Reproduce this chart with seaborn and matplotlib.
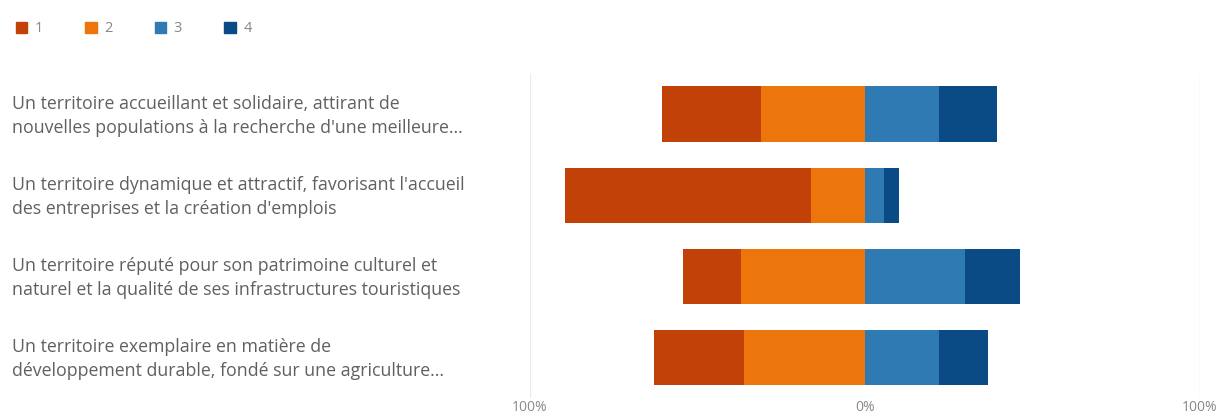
import matplotlib.pyplot as plt
import matplotlib.patches as mpatches
import matplotlib.transforms as mtransforms
import seaborn as sns
import pandas as pd

# Données (en %)
labels = [
    "Un territoire accueillant et solidaire, attirant de\nnouvelles populations à la recherche d'une meilleure...",
    "Un territoire dynamique et attractif, favorisant l'accueil\ndes entreprises et la création d'emplois",
    "Un territoire réputé pour son patrimoine culturel et\nnaturel et la qualité de ses infrastructures touristiques",
    "Un territoire exemplaire en matière de\ndéveloppement durable, fondé sur une agriculture...",
]
note_1 = [29.6, 73.4, 17.3, 26.9]
note_2 = [31.0, 16.1, 37.0, 36.1]
note_3 = [22.0, 5.7, 29.9, 22.1]
note_4 = [17.3, 4.5, 16.4, 14.6]
legend_labels = ["1", "2", "3", "4"]
tick_labels = ["100%", "0%", "100%"]

colors = ["#C24109", "#EC760C", "#2F7AB3", "#0A4B85"]

sns.set_theme(style="white")
plt.rcParams['font.family'] = ['Open Sans', 'DejaVu Sans']

df = pd.DataFrame({'q': labels, 'n1': note_1, 'n2': note_2, 'n3': note_3, 'n4': note_4})
# cumuls pour le graphique divergent
df['neg_out'] = -(df['n1'] + df['n2'])
df['neg_in'] = -df['n2']
df['pos_out'] = df['n3'] + df['n4']
df['pos_in'] = df['n3']

fig = plt.figure(figsize=(12.27, 4.15), dpi=100)
ax = fig.add_axes([0.432, 0.040, 0.546, 0.783])

for col, c in [('neg_out', colors[0]), ('neg_in', colors[1]),
               ('pos_out', colors[3]), ('pos_in', colors[2])]:
    sns.barplot(data=df, x=col, y='q', orient='h', color=c, width=0.68,
                saturation=1, ax=ax, linewidth=0)

ax.set_xlim(-100, 100)
ax.set_xticks([-100, 0, 100])
ax.set_xticklabels(tick_labels, color="#888888", fontsize=10)
ax.tick_params(axis='x', length=0, pad=1)
ax.set_xlabel("")
ax.set_ylabel("")
ax.set_yticks([])
for s in ax.spines.values():
    s.set_visible(False)
ax.grid(False)
for xv in [-100, 100]:
    ax.axvline(xv, color="#EBEBEB", lw=1, zorder=0)

trans = mtransforms.blended_transform_factory(fig.transFigure, ax.transData)
for i, lab in enumerate(labels):
    ax.text(12 / 1227, i + 0.02, lab, transform=trans, ha='left', va='center',
            fontsize=12.8, color="#606060", linespacing=1.42)

handles = [mpatches.Patch(color=c, label=l) for c, l in zip(colors, legend_labels)]
fig.legend(handles=handles, loc='upper left', bbox_to_anchor=(0.002, 0.98), ncol=4,
           frameon=False, handlelength=0.8, handleheight=0.8, handletextpad=0.5,
           columnspacing=2.9, labelcolor="#888888", fontsize=10.5)

fig.savefig("out.png", dpi=100)
